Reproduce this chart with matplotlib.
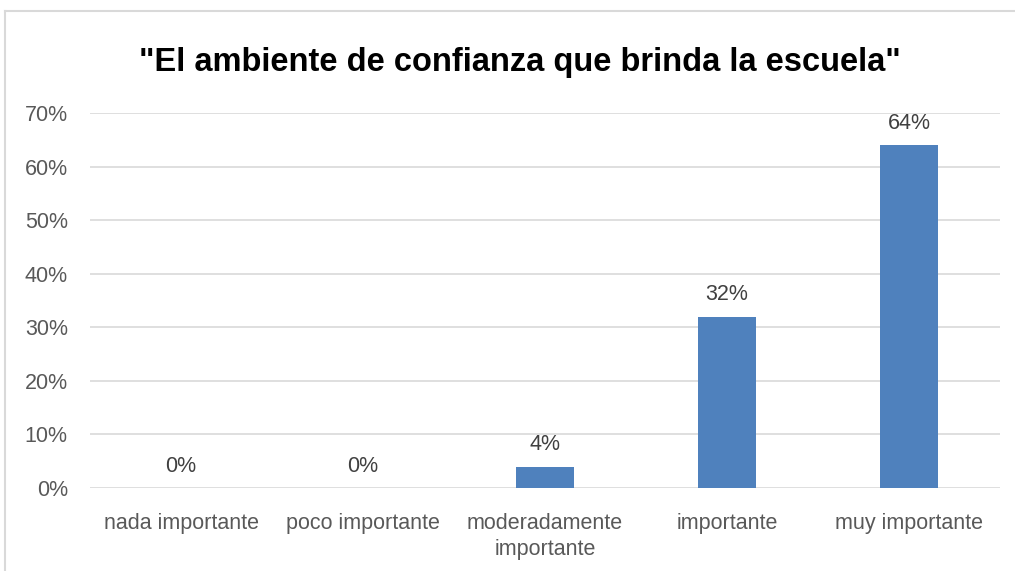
import matplotlib.pyplot as plt
from matplotlib.lines import Line2D
from matplotlib.ticker import PercentFormatter

plt.rcParams['font.family'] = ['Liberation Sans', 'DejaVu Sans']

# datos
categorias = ['nada importante', 'poco importante', 'moderadamente\nimportante',
              'importante', 'muy importante']
porcentajes = [0, 0, 4, 32, 64]
titulo = '"El ambiente de confianza que brinda la escuela"'

fig = plt.figure(figsize=(10.15, 5.71), dpi=100)
ax = fig.add_axes([0.0887, 0.1454, 0.8966, 0.6567])

x = range(len(categorias))
ax.bar(x, [p / 100 for p in porcentajes], width=0.32, color='#4F81BD', zorder=3)

for xi, p in zip(x, porcentajes):
    ax.annotate(f'{p}%', (xi, p / 100), xytext=(0, 8), textcoords='offset points',
                ha='center', va='bottom', fontsize=15.5, color='#404040')

ax.set_xlim(-0.5, len(categorias) - 0.5)
ax.set_ylim(0, 0.7)
ax.set_yticks([i / 10 for i in range(8)])
ax.yaxis.set_major_formatter(PercentFormatter(1.0, decimals=0))
ax.set_xticks(list(x))
ax.set_xticklabels(categorias, fontsize=15.5, color='#595959', linespacing=1.3)
ax.tick_params(axis='y', labelsize=15.5, labelcolor='#595959', length=0, pad=16)
ax.tick_params(axis='x', length=0, pad=18)

ax.grid(axis='y', color='#D9D9D9', linewidth=1.2, zorder=0)
for s in ax.spines.values():
    s.set_visible(False)

fig.text(0.512, 0.89, titulo, ha='center', va='center', fontsize=23.5,
         fontweight='bold', color='black')

# marco del grafico
fig.add_artist(Line2D([5 / 1015, 5 / 1015], [0, 1 - 11 / 571], transform=fig.transFigure,
                      color='#D9D9D9', linewidth=1.5))
fig.add_artist(Line2D([5 / 1015, 1], [1 - 11 / 571, 1 - 11 / 571], transform=fig.transFigure,
                      color='#D9D9D9', linewidth=1.5))

fig.savefig('out.png', dpi=100)
